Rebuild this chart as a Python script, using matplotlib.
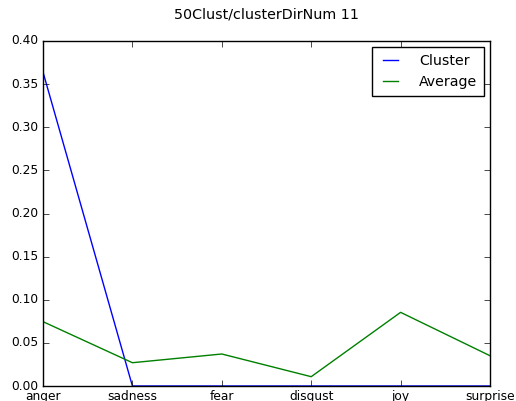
import matplotlib
matplotlib.use("Agg")
import matplotlib.pyplot as plt

plt.style.use("classic")

categories = ["anger", "sadness", "fear", "disgust", "joy", "surprise"]
cluster = [0.364, 0.0, 0.0, 0.0, 0.0, 0.0]
average = [0.0746, 0.027, 0.0371, 0.0108, 0.0854, 0.0351]

fig = plt.figure(figsize=(5.16, 4.01), dpi=100)
ax = fig.add_axes([43/516, 15/401, 447/516, 345/401])
x = list(range(len(categories)))
ax.plot(x, cluster, color="b", label="Cluster", zorder=1)
ax.plot(x, average, color="g", label="Average", zorder=2)
ax.set_xticks(x)
ax.set_xticklabels(categories)
ax.set_xlim(0, len(categories) - 1)
ax.set_ylim(0, 0.4)
ax.tick_params(labelsize=8.8, pad=3)
ax.legend(loc="upper right", fontsize=10.2, handlelength=1.7, handletextpad=1.15,
          borderpad=0.5, borderaxespad=0.4)
fig.text(266.5/516, 1 - 14.5/401, "50Clust/clusterDirNum 11", ha="center", va="center", fontsize=10.3)
fig.savefig("out.png", dpi=100)
